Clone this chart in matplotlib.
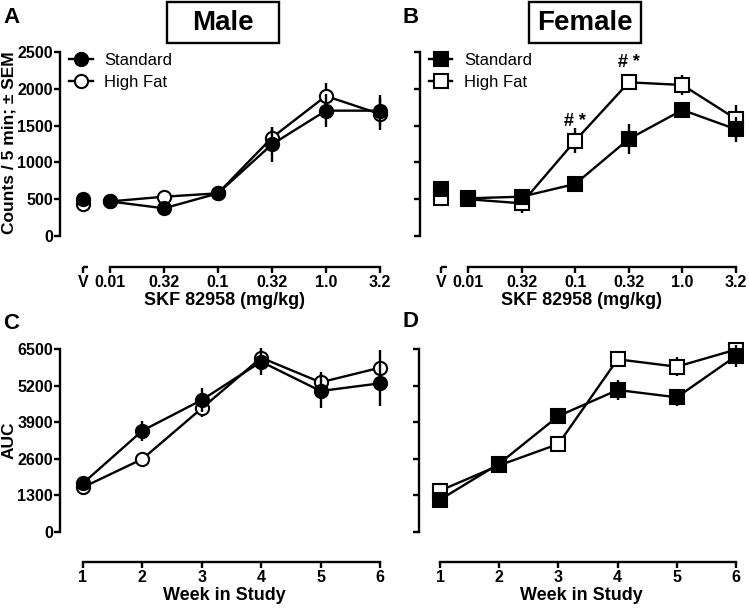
import numpy as np
import matplotlib
matplotlib.use('Agg')
import matplotlib.pyplot as plt
from matplotlib.patches import Rectangle

plt.rcParams['font.family'] = ['Liberation Sans', 'DejaVu Sans']
plt.rcParams['font.weight'] = 'bold'

# dose-response data (counts / 5 min, mean and SEM)
dose_labels = ['V', '0.01', '0.32', '0.1', '0.32', '1.0', '3.2']
male_std = [500, 470, 376, 580, 1245, 1703, 1703]
male_std_sem = [70, 90, 60, 60, 235, 226, 215]
male_hf = [435, 470, 534, 580, 1336, 1902, 1658]
male_hf_sem = [50, 50, 40, 40, 140, 172, 220]
fem_std = [640, 512, 534, 707, 1318, 1712, 1450]
fem_std_sem = [60, 50, 50, 90, 200, 60, 170]
fem_hf = [515, 500, 444, 1295, 2088, 2052, 1590]
fem_hf_sem = [40, 40, 125, 170, 40, 136, 190]

# AUC across weeks
weeks = [1, 2, 3, 4, 5, 6]
male_auc_std = [1730, 3599, 4689, 6049, 5008, 5281]
male_auc_std_sem = [100, 350, 410, 470, 610, 800]
male_auc_hf = [1588, 2593, 4394, 6191, 5317, 5836]
male_auc_hf_sem = [80, 100, 300, 270, 380, 630]
fem_auc_std = [1148, 2427, 4120, 5044, 4784, 6252]
fem_auc_std_sem = [100, 100, 300, 355, 300, 400]
fem_auc_hf = [1468, 2368, 3126, 6134, 5872, 6480]
fem_auc_hf_sem = [80, 100, 100, 150, 330, 150]

W, H = 749, 612
fig = plt.figure(figsize=(W / 100, H / 100), dpi=100)


def px_axes(left, top, right, bottom):
    return fig.add_axes([left / W, 1 - bottom / H, (right - left) / W, (bottom - top) / H])


def style_axes(ax, ymax, yticks, show_ylabels):
    for s in ['top', 'right']:
        ax.spines[s].set_visible(False)
    for s in ['left', 'bottom']:
        ax.spines[s].set_linewidth(1.7)
    ax.spines['left'].set_bounds(0, ymax)
    ax.spines['bottom'].set_bounds(1, 6)
    ax.set_yticks(yticks)
    if not show_ylabels:
        ax.set_yticklabels([])
    ax.tick_params(axis='both', width=1.7, length=4, labelsize=11.5, pad=2)
    ax.tick_params(axis='y', pad=1)
    for lab in ax.get_xticklabels() + ax.get_yticklabels():
        lab.set_fontweight('bold')


def plot_series(ax, x, y, sem, marker, face, label, z):
    ax.errorbar(x, y, yerr=sem, fmt='none', ecolor='black', elinewidth=1.7,
                capsize=0, zorder=z)
    line, = ax.plot(x, y, color='black', lw=1.7, marker=marker, ms=9.5,
                    mfc=face, mec='black', mew=1.5, label=label, zorder=z + 0.5)
    return line


def dose_panel(ax, std, std_sem, hf, hf_sem, marker, xlim):
    xs = np.arange(1, 7)
    plot_series(ax, [0.5], std[:1], std_sem[:1], marker, 'black', None, 4)
    plot_series(ax, [0.5], hf[:1], hf_sem[:1], marker, 'white', None, 2)
    l1 = plot_series(ax, xs, std[1:], std_sem[1:], marker, 'black', 'Standard', 4)
    l2 = plot_series(ax, xs, hf[1:], hf_sem[1:], marker, 'white', 'High Fat', 2)
    ylo = -421
    ax.set_ylim(ylo, 2595)
    ax.set_xlim(*xlim)
    ax.set_xticks([0.5] + list(xs))
    ax.set_xticklabels(dose_labels)
    # little separate axis piece under the vehicle point
    ax.plot([0.5, 0.6], [ylo, ylo], color='black', lw=1.7, clip_on=False,
            solid_capstyle='butt')
    ax.set_xlabel('SKF 82958 (mg/kg)', fontsize=13, fontweight='bold', labelpad=1)
    leg = ax.legend(handles=[l1, l2], loc='upper left', frameon=False,
                    fontsize=12, handlelength=1.4, handletextpad=0.7,
                    labelspacing=0.45, borderpad=0, borderaxespad=0,
                    bbox_to_anchor=(xlim[0] + 0.17, 2490),
                    bbox_transform=ax.transData)
    for t in leg.get_texts():
        t.set_fontweight('normal')


def week_panel(ax, std, std_sem, hf, hf_sem, marker, xlim):
    plot_series(ax, weeks, std, std_sem, marker, 'black', 'Standard', 4)
    plot_series(ax, weeks, hf, hf_sem, marker, 'white', 'High Fat', 2)
    ax.set_ylim(-1066, 6820)
    ax.set_xlim(*xlim)
    ax.set_xticks(weeks)
    ax.set_xlabel('Week in Study', fontsize=13, fontweight='bold', labelpad=1)


axA = px_axes(60, 45, 388, 267)
axB = px_axes(420, 45, 744, 267)
axC = px_axes(60, 340, 388, 562)
axD = px_axes(419, 340, 743, 562)

dose_panel(axA, male_std, male_std_sem, male_hf, male_hf_sem, 'o', (0.074, 6.15))
dose_panel(axB, fem_std, fem_std_sem, fem_hf, fem_hf_sem, 's', (0.1045, 6.149))
week_panel(axC, male_auc_std, male_auc_std_sem, male_auc_hf, male_auc_hf_sem, 'o', (0.613, 6.135))
week_panel(axD, fem_auc_std, fem_auc_std_sem, fem_auc_hf, fem_auc_hf_sem, 's', (0.645, 6.118))

style_axes(axA, 2500, [0, 500, 1000, 1500, 2000, 2500], True)
style_axes(axB, 2500, [0, 500, 1000, 1500, 2000, 2500], False)
style_axes(axC, 6500, [0, 1300, 2600, 3900, 5200, 6500], True)
style_axes(axD, 6500, [0, 1300, 2600, 3900, 5200, 6500], False)

# significance marks
for xi in [3, 4]:
    axB.text(xi, fem_hf[xi] + 150, '# *', ha='center', va='bottom',
             fontsize=13, fontweight='bold')

# y labels
fig.text(9 / W, 1 - 143 / H, 'Counts / 5 min; \u00b1 SEM', rotation=90,
         ha='center', va='center', fontsize=12.5, fontweight='bold')
fig.text(9 / W, 1 - 440 / H, 'AUC', rotation=90,
         ha='center', va='center', fontsize=12.5, fontweight='bold')

# boxed titles
for cx, title in [(223, 'Male'), (585, 'Female')]:
    fig.add_artist(Rectangle(((cx - 56) / W, 1 - 43 / H), 112 / W, 41 / H,
                             transform=fig.transFigure, fill=False,
                             lw=1.7, ec='black'))
    fig.text(cx / W, 1 - 23 / H, title, ha='center', va='center',
             fontsize=20, fontweight='bold')

# panel letters
for x, y, letter in [(3, 7, 'A'), (402, 7, 'B'), (3, 313, 'C'), (402, 311, 'D')]:
    fig.text(x / W, 1 - y / H, letter, ha='left', va='top',
             fontsize=16, fontweight='bold')

fig.savefig('out.png', dpi=100)
